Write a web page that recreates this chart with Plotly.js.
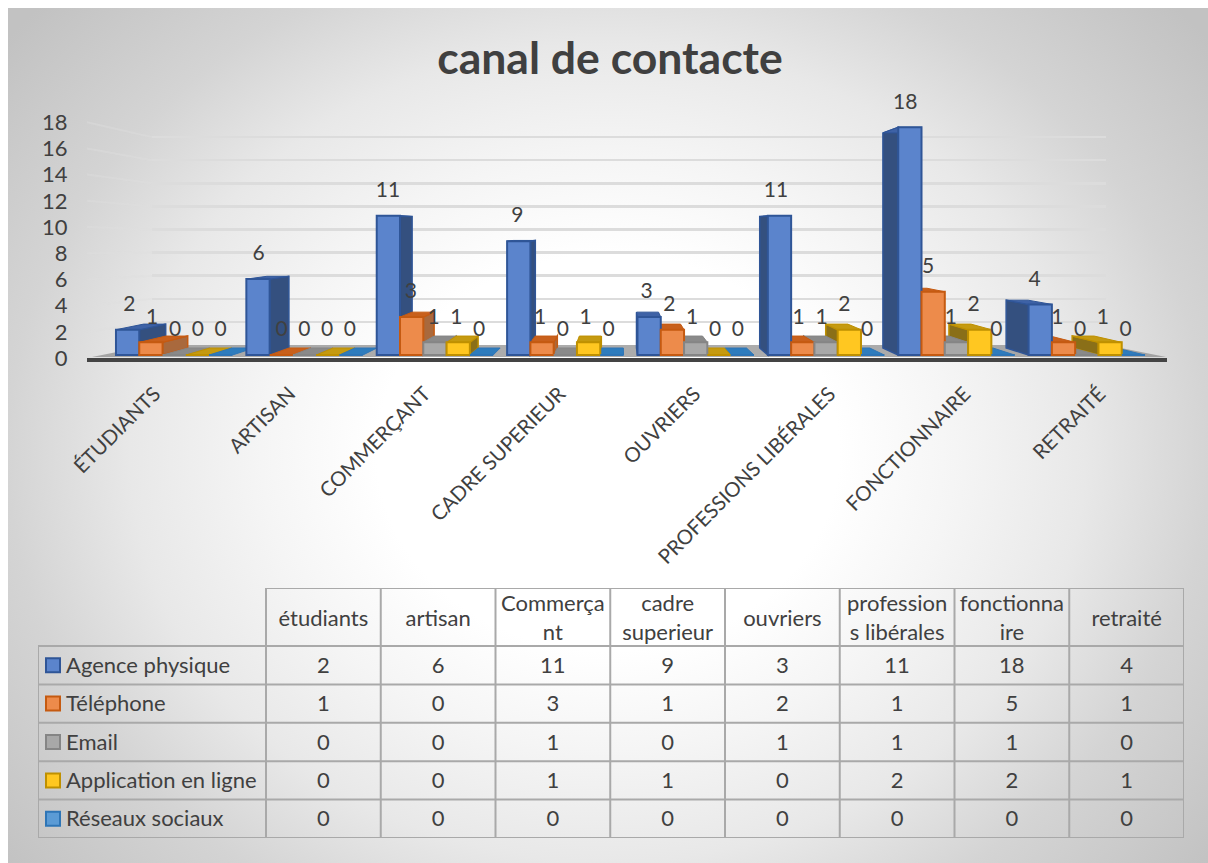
<!DOCTYPE html>
<html>
<head>
<meta charset="utf-8">
<script src="https://cdn.plot.ly/plotly-3.0.1.min.js"></script>
<style>
html,body{margin:0;padding:0;background:#fff;overflow:hidden;width:1208px;height:863px}
#bg{position:absolute;left:8px;top:8px;right:0;bottom:0;background:radial-gradient(ellipse 770px 660px at 50% 52%,#ffffff 0%,#ffffff 30%,#f5f5f5 45%,#e8e8e8 62%,#d4d4d4 78%,#c2c2c2 100%)}
#chart{position:absolute;left:0;top:0;width:1208px;height:863px}
</style>
</head>
<body>
<div id="bg"></div>
<div id="chart"></div>
<script>
const axisCategories = ['ÉTUDIANTS','ARTISAN','COMMERÇANT','CADRE SUPERIEUR','OUVRIERS','PROFESSIONS LIBÉRALES','FONCTIONNAIRE','RETRAITÉ'];
const tableCategories = ['étudiants','artisan','Commerça<br>nt','cadre<br>superieur','ouvriers','profession<br>s libérales','fonctionna<br>ire','retraité'];
const seriesNames = ['Agence physique','Téléphone','Email','Application en ligne','Réseaux sociaux'];
const agencePhysique = [2,6,11,9,3,11,18,4];
const telephone = [1,0,3,1,2,1,5,1];
const email = [0,0,1,0,1,1,1,0];
const applicationEnLigne = [0,0,1,1,0,2,2,1];
const reseauxSociaux = [0,0,0,0,0,0,0,0];
const seriesValues = [agencePhysique,telephone,email,applicationEnLigne,reseauxSociaux];
const faceColors = ['#5b84cc','#ed8b4b','#a8a8a8','#ffc721','#5b9bd5'];
const edgeColors = ['#2f5597','#c55a11','#858585','#bf9000','#2e75b6'];
const sideColors = ['#34507f','#a9693d','#7f7f7f','#8a6f18','#2e6da4'];
const topColors = ['#3e62a6','#c8601c','#8a8a8a','#c59a10','#2e7cbd'];
const yTicks = [0,2,4,6,8,10,12,14,16,18];
const text = '#404040';
const font = 'Lato, Carlito, "Open Sans", sans-serif';

const W = 1208, H = 863;
const xDom = (l,r) => [l/W, r/W];
const yDom = (t,b) => [1-b/H, 1-t/H];
const yRange = (base,scale,t,b) => [(base-b)/scale, (base-t)/scale];
const px = (x,y) => [x/W, 1-y/H];

// front bars: pitch and scale of the perspective drawing
const barL = 109, barR = 1152, pitch = (barR-barL)/8;
const frontBase = 355, frontScale = 12.65;
const backBase = 348, backScale = 11.95;
const bargap = 0.107, barW = (1-bargap)/5;
const vpX = (620-barL)/pitch-0.5, depth = 0.055;
const backX = x => x+(vpX-x)*depth;
const backY = v => (v*backScale+(frontBase-backBase))/frontScale;

const shapes = [];
// floor
const poly = pts => 'M'+pts.map(p => px(p[0],p[1]).join(',')).join('L')+'Z';
shapes.push({type:'path',xref:'paper',yref:'paper',layer:'below',path:poly([[152,345],[1106,345],[1166,357],[92,357]]),fillcolor:'rgba(140,140,140,0.72)',line:{width:0}});
// side wall gridlines
yTicks.slice(1).forEach(v => {
  const a = px(87,358-13.1*v), b = px(152,345-11.55*v);
  shapes.push({type:'line',xref:'paper',yref:'paper',layer:'below',x0:a[0],y0:a[1],x1:b[0],y1:b[1],line:{color:'rgba(222,222,222,0.4)',width:2}});
});
// depth faces of every bar, from its value
const cell = (i,s) => ({l:i+(s-2.5)*barW, r:i+(s-1.5)*barW});
const faces = (i,s) => {
  const v = seriesValues[s][i], c = cell(i,s);
  const yF = v, yB = backY(v);
  const blx = backX(c.l), brx = backX(c.r);
  const path = pts => 'M'+pts.map(p => p.join(',')).join('L')+'Z';
  if (v>0) {
    const sidePts = c.r<vpX
      ? [[c.r,0],[brx,backY(0)],[brx,yB],[c.r,yF]]
      : [[c.l,0],[blx,backY(0)],[blx,yB],[c.l,yF]];
    shapes.push({type:'path',xref:'x2',yref:'y2',layer:'below',path:path(sidePts),fillcolor:sideColors[s],line:{color:edgeColors[s],width:1.5}});
  }
  shapes.push({type:'path',xref:'x2',yref:'y2',layer:'below',path:path([[c.l,yF],[c.r,yF],[brx,yB],[blx,yB]]),fillcolor:topColors[s],line:{color:edgeColors[s],width:1}});
};
axisCategories.forEach((_,i) => {
  const order = [0,1,2,3,4];
  if (i>=4) order.reverse();
  order.forEach(s => faces(i,s));
});

// data table: columns and rows live on their own axes
const tableL = 38, colsL = 266, colsR = 1184, tableT = 588, rowsT = 646, tableB = 838;
const colW = (colsR-colsL)/8, rowH = (tableB-rowsT)/5;
const keyCol = (colsL-tableL)/colW, headRow = (rowsT-tableT)/rowH;
const border = '#a9a9a9';
const tableLine = (x0,y0,x1,y1) => shapes.push({type:'line',xref:'x4',yref:'y5',layer:'above',x0,y0,x1,y1,line:{color:border,width:2}});
tableCategories.forEach((_,c) => tableLine(c,-headRow,c,5));
tableLine(8,-headRow,8,5);
tableLine(-keyCol,0,-keyCol,5);
tableLine(0,-headRow,8,-headRow);
for (let r=0;r<=5;r++) tableLine(-keyCol,r,8,r);
// legend keys in the table
seriesNames.forEach((_,s) => {
  const x0 = -keyCol+8/colW;
  shapes.push({type:'rect',xref:'x4',yref:'y5',layer:'above',x0,x1:x0+14/colW,y0:s+0.5-7/rowH,y1:s+0.5+7/rowH,fillcolor:faceColors[s],line:{color:edgeColors[s],width:2}});
});

const hidden = (xa,ya) => ({type:'scatter',mode:'markers',x:[0],y:[0],xaxis:xa,yaxis:ya,marker:{opacity:0},hoverinfo:'skip',showlegend:false});
const traces = [hidden('x','y'), hidden('x3','y4')];

seriesNames.forEach((name,s) => {
  traces.push({type:'bar',name,x:axisCategories.map((_,i)=>i),y:seriesValues[s],xaxis:'x2',yaxis:'y2',
    marker:{color:faceColors[s],line:{color:edgeColors[s],width:2}},showlegend:false,hoverinfo:'skip'});
});
seriesNames.forEach((name,s) => {
  traces.push({type:'scatter',mode:'text',name,
    x:axisCategories.map((_,i)=>(175+129.3*i+22.8*(s-2)-barL)/pitch-0.5),
    y:seriesValues[s],text:seriesValues[s].map(String),xaxis:'x2',yaxis:'y3',cliponaxis:false,
    textposition:'middle center',textfont:{family:font,size:21,color:text},showlegend:false,hoverinfo:'skip'});
});

// table text
const tableFont = {family:font,size:22,color:text};
const tableText = (x,y,t,pos) => ({type:'scatter',mode:'text',x,y,text:t,xaxis:'x4',yaxis:'y5',cliponaxis:false,
  textposition:pos,textfont:tableFont,showlegend:false,hoverinfo:'skip'});
const nudge = 2/rowH;
traces.push(tableText(tableCategories.map((_,c)=>c+0.5),tableCategories.map(()=>-headRow/2+1.5*nudge),tableCategories,'middle center'));
traces.push(tableText(seriesNames.map(()=>-keyCol+28/colW),seriesNames.map((_,s)=>s+0.5+nudge),seriesNames,'middle right'));
seriesNames.forEach((_,s) => {
  traces.push(tableText(tableCategories.map((_,c)=>c+0.5),tableCategories.map(()=>s+0.5+nudge),seriesValues[s].map(String),'middle center'));
});

const catRange = [-0.5,7.5];
const layout = {
  width:W,height:H,margin:{l:0,r:0,t:0,b:0},autosize:false,
  paper_bgcolor:'rgba(0,0,0,0)',plot_bgcolor:'rgba(0,0,0,0)',
  showlegend:false,barmode:'group',bargap:bargap,bargroupgap:0,
  font:{family:font,color:text},
  title:{text:'canal de contacte',x:610/W,xref:'paper',xanchor:'center',y:1-58/H,yref:'paper',yanchor:'middle',
    font:{family:font,size:44.5,color:text,weight:700}},
  // back-wall gridlines
  xaxis:{domain:xDom(152,1106),range:catRange,visible:false,anchor:'y'},
  yaxis:{domain:yDom(100,372),range:yRange(345,11.55,100,372),anchor:'x',tickvals:yTicks.slice(1),showticklabels:false,
    showgrid:true,gridcolor:'#dcdcdc',gridwidth:2.5,zeroline:false,showline:false,ticks:''},
  // bars
  xaxis2:{domain:xDom(barL,barR),range:catRange,visible:false,anchor:'y2'},
  yaxis2:{domain:yDom(80,372),range:yRange(frontBase,frontScale,80,372),anchor:'x2',visible:false},
  yaxis3:{overlaying:'y2',domain:yDom(80,372),range:yRange(331,frontScale,80,372),anchor:'x2',visible:false},
  // category and value labels with the baseline
  xaxis3:{domain:xDom(87,1167),range:catRange,anchor:'y4',tickmode:'array',tickvals:axisCategories.map((_,i)=>i),ticktext:axisCategories,
    tickangle:-45,ticks:'outside',ticklen:12,tickcolor:'rgba(0,0,0,0)',tickfont:{family:font,size:20.3,color:text},
    showgrid:false,zeroline:false,showline:true,linecolor:'#444444',linewidth:4},
  yaxis4:{domain:yDom(100,358),range:yRange(358,13.1,100,358),anchor:'x3',tickmode:'array',tickvals:yTicks,
    ticks:'outside',ticklen:14,tickcolor:'rgba(0,0,0,0)',tickfont:{family:font,size:22,color:text},
    showgrid:false,zeroline:false,showline:false},
  // table
  xaxis4:{domain:xDom(tableL,colsR),range:[-keyCol,8],visible:false,anchor:'y5'},
  yaxis5:{domain:yDom(tableT,tableB),range:[5,-headRow],visible:false,anchor:'x4'},
  shapes
};
Plotly.newPlot('chart',traces,layout,{displayModeBar:false,staticPlot:true});
</script>
</body>
</html>
